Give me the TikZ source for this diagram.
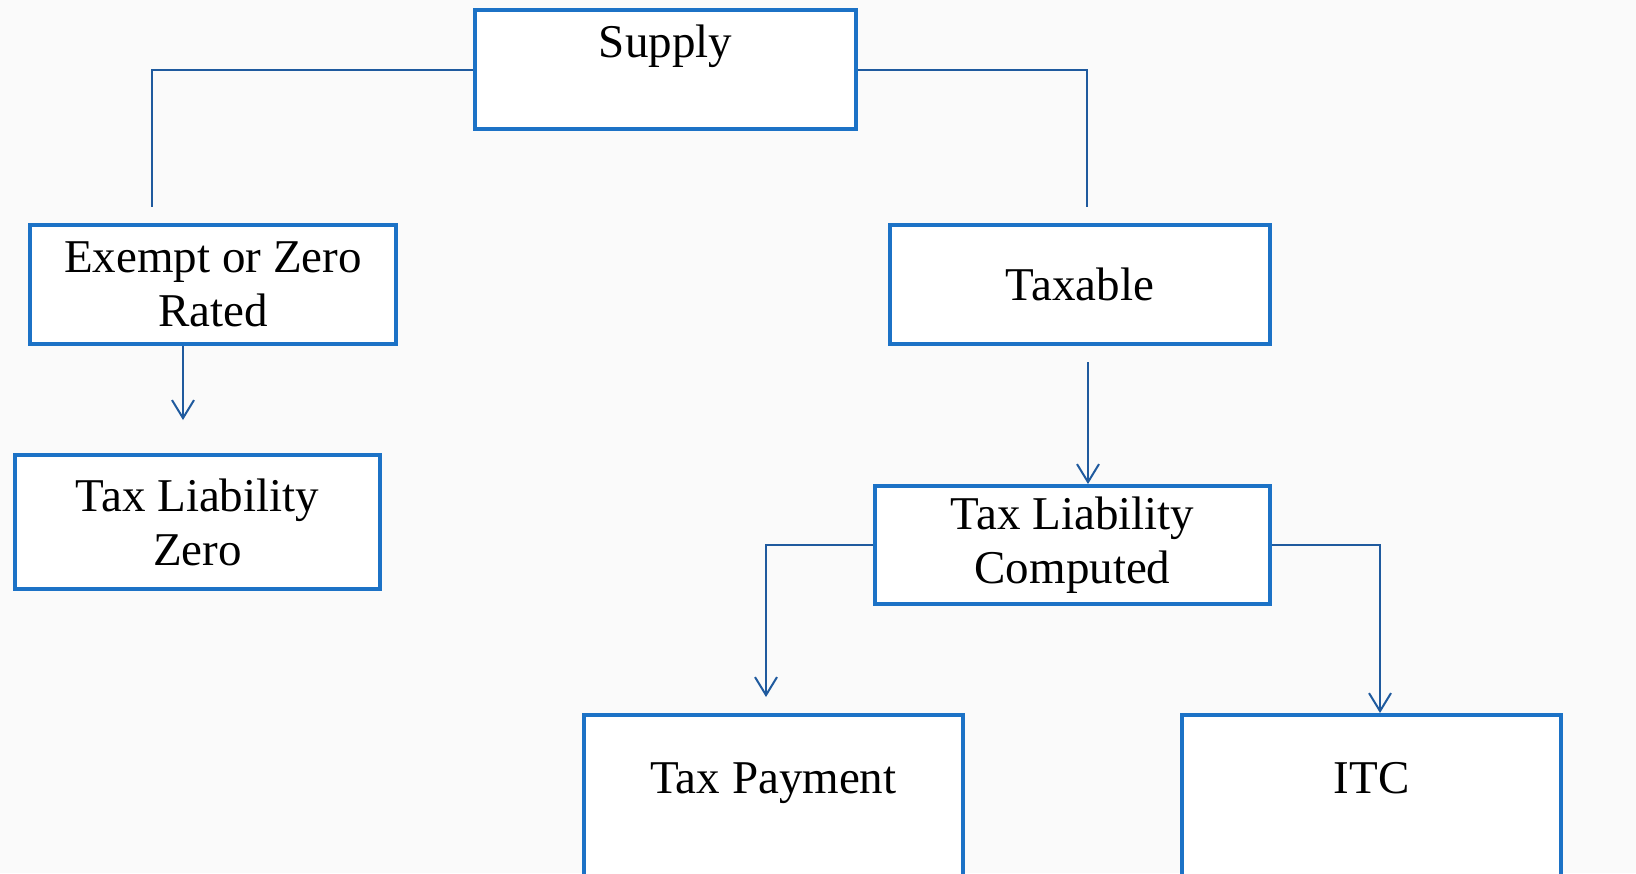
\documentclass[tikz,border=0pt]{standalone}
\usepackage{fontspec}
\setmainfont{Liberation Serif}
\usetikzlibrary{arrows.meta}
\definecolor{boxblue}{HTML}{1C72C6}
\definecolor{linkblue}{HTML}{1F5A9E}
\definecolor{bgc}{HTML}{FAFAFA}
\begin{document}
\begin{tikzpicture}[x=0.5pt,y=-0.5pt,
  box/.style={draw=boxblue, line width=2pt, fill=white, rectangle, inner sep=0pt,
    align=center, font=\fontsize{23.5pt}{27pt}\selectfont},
  link/.style={draw=linkblue, line width=1pt},
  arr/.style={link, -{Straight Barb[length=9pt,width=11pt,line width=1pt]}}]
\path[fill=bgc] (0,0) rectangle (1636,873);
\useasboundingbox (0,0) rectangle (1636,873);
\clip (0,0) rectangle (1636,873);

\node[box, minimum width=190.5pt, minimum height=59.5pt, text height=16pt, text depth=28.5pt] (supply) at (665.5,69.5) {Supply};
\node[box, minimum width=183pt, minimum height=59.5pt] (exempt) at (213,284.5) {Exempt or Zero\\Rated};
\node[box, minimum width=190pt, minimum height=59.5pt] (taxable) at (1080,284.5) {Taxable};
\node[box, minimum width=182.5pt, minimum height=67pt] (zero) at (197.5,522) {Tax Liability\\Zero};
\node[box, minimum width=197.5pt, minimum height=59pt] (computed) at (1072.5,545) {Tax Liability\\Computed};
\node[box, minimum width=189.5pt, minimum height=84pt, text height=16pt, text depth=22pt] (payment) at (773.5,799) {Tax Payment};
\node[box, minimum width=189.5pt, minimum height=84pt, text height=16pt, text depth=22pt] (itc) at (1371.5,799) {ITC};

\coordinate (sl) at (152,207);
\coordinate (sr) at (1087,207);
\coordinate (ea) at (183,420);
\coordinate (ts) at (1088,362);
\coordinate (pa) at (766,697);
\coordinate (ic) at (1380,713);

\draw[link] (supply.west) -| (sl);
\draw[link] (supply.east) -| (sr);
\draw[arr] (exempt.south -| ea) -- (ea);
\draw[arr] (ts) -- (ts |- computed.north);
\draw[arr] (computed.west) -| (pa);
\draw[arr] (computed.east) -| (ic);
\end{tikzpicture}
\end{document}
